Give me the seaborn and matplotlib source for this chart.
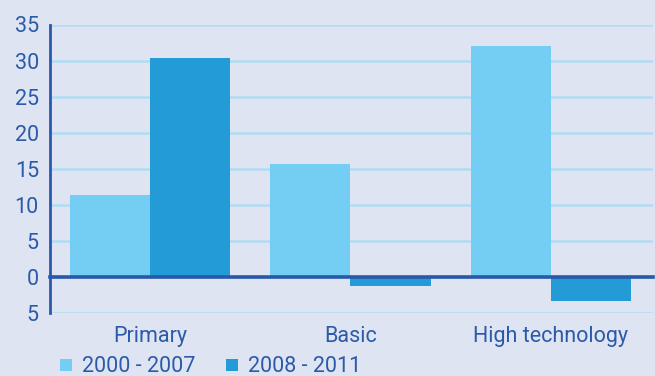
import matplotlib
matplotlib.use("Agg")
import matplotlib.pyplot as plt
from matplotlib.ticker import FixedLocator, NullFormatter
from matplotlib.lines import Line2D
import seaborn as sns
import pandas as pd

# Data
categories = ["Primary", "Basic", "High technology"]
periods = ["2000 - 2007", "2008 - 2011"]
values_2000_2007 = [11.3, 15.6, 32.0]
values_2008_2011 = [30.4, -1.2, -3.4]
y_ticks = [-5, 0, 5, 10, 15, 20, 25, 30, 35]
y_tick_labels = ["5", "0", "5", "10", "15", "20", "25", "30", "35"]

df = pd.DataFrame({
    "category": categories * 2,
    "period": [periods[0]] * 3 + [periods[1]] * 3,
    "value": values_2000_2007 + values_2008_2011,
})

bg = "#dfe4f2"
axis_blue = "#2a58a8"
text_blue = "#2a5aa8"
grid_blue = "#b3dcf3"
palette = {periods[0]: "#74cdf3", periods[1]: "#229bd6"}

sns.set_theme(style="white")
plt.rcParams["font.family"] = ["Roboto", "DejaVu Sans"]
plt.rcParams["font.weight"] = "normal"

fig = plt.figure(figsize=(6.55, 3.76), dpi=100, facecolor=bg)
ax = fig.add_axes([50 / 655, 1 - 313 / 376, 603 / 655, (313 - 24.5) / 376])
ax.set_facecolor(bg)

sns.barplot(data=df, x="category", y="value", hue="period", order=categories,
            hue_order=periods, palette=palette, width=0.8, saturation=1,
            linewidth=0, ax=ax, legend=False, zorder=3)

ax.set_ylim(-5, 35)
ax.set_xlim(-0.5, 2.51)
ax.set_yticks(y_ticks)
ax.set_yticklabels(y_tick_labels)
ax.yaxis.grid(True, color=grid_blue, linewidth=1.8, zorder=0)
ax.set_axisbelow(True)
ax.set_xlabel("")
ax.set_ylabel("")

for s in ["top", "right"]:
    ax.spines[s].set_visible(False)
ax.spines["left"].set_color(axis_blue)
ax.spines["left"].set_linewidth(2)
ax.spines["left"].set_zorder(5)
ax.spines["bottom"].set_position(("data", 0))
ax.spines["bottom"].set_color(axis_blue)
ax.spines["bottom"].set_linewidth(2.6)
ax.spines["bottom"].set_zorder(5)

ax.tick_params(axis="y", direction="out", length=5, width=2, color=axis_blue,
               labelcolor=text_blue, labelsize=15.5, pad=3)
ax.tick_params(axis="x", which="major", length=0, labelcolor=text_blue,
               labelsize=15.5, pad=35)
ax.xaxis.set_minor_locator(FixedLocator([0.5, 1.5, 2.5]))
ax.xaxis.set_minor_formatter(NullFormatter())
ax.tick_params(axis="x", which="minor", direction="out", length=6, width=1.6,
               color=axis_blue)

handles = [Line2D([], [], marker="s", linestyle="none", markersize=8.5,
                  markerfacecolor=palette[p], markeredgewidth=0) for p in periods]
leg = fig.legend(handles, periods, loc="lower left", bbox_to_anchor=(36 / 655, -0.055),
                 ncol=2, frameon=False, fontsize=15.5, handletextpad=0.25,
                 columnspacing=1.2, handlelength=1.0)
for t in leg.get_texts():
    t.set_color(text_blue)

fig.savefig("out.png", dpi=100, facecolor=bg)
